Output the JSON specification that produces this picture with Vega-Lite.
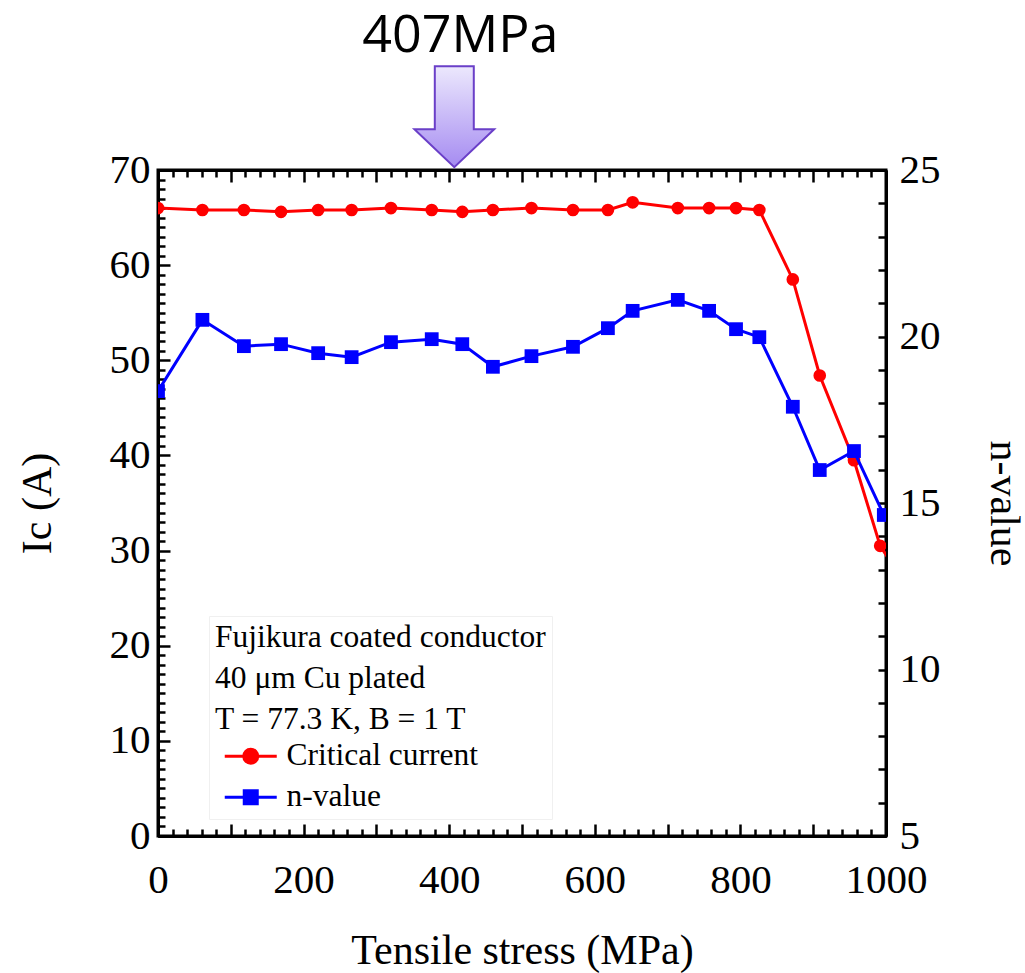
{
  "$schema": "https://vega.github.io/schema/vega-lite/v6.json",
  "width": 728,
  "height": 666,
  "autosize": {"type": "none"},
  "padding": {"left": 158, "top": 170, "right": 139, "bottom": 137},
  "background": "white",
  "config": {
    "view": {"stroke": "black", "strokeWidth": 3},
    "axis": {
      "grid": false,
      "domainColor": "black",
      "domainWidth": 3,
      "tickColor": "black",
      "tickWidth": 2.5,
      "labelFont": "Liberation Serif",
      "labelFontSize": 41,
      "labelColor": "black",
      "labelOverlap": false,
      "labelBound": false,
      "labelFlush": false,
      "titleFont": "Liberation Serif",
      "titleFontSize": 42,
      "titleFontWeight": "normal",
      "titleColor": "black"
    }
  },
  "datasets": {
    "ic": [
      {"stress": 0, "ic": 66.0, "series": "Critical current"},
      {"stress": 61, "ic": 65.8, "series": "Critical current"},
      {"stress": 118, "ic": 65.8, "series": "Critical current"},
      {"stress": 169, "ic": 65.6, "series": "Critical current"},
      {"stress": 220, "ic": 65.8, "series": "Critical current"},
      {"stress": 266, "ic": 65.8, "series": "Critical current"},
      {"stress": 320, "ic": 66.0, "series": "Critical current"},
      {"stress": 376, "ic": 65.8, "series": "Critical current"},
      {"stress": 418, "ic": 65.6, "series": "Critical current"},
      {"stress": 460, "ic": 65.8, "series": "Critical current"},
      {"stress": 513, "ic": 66.0, "series": "Critical current"},
      {"stress": 570, "ic": 65.8, "series": "Critical current"},
      {"stress": 618, "ic": 65.8, "series": "Critical current"},
      {"stress": 652, "ic": 66.6, "series": "Critical current"},
      {"stress": 714, "ic": 66.0, "series": "Critical current"},
      {"stress": 757, "ic": 66.0, "series": "Critical current"},
      {"stress": 794, "ic": 66.0, "series": "Critical current"},
      {"stress": 826, "ic": 65.8, "series": "Critical current"},
      {"stress": 872, "ic": 58.5, "series": "Critical current"},
      {"stress": 909, "ic": 48.4, "series": "Critical current"},
      {"stress": 956, "ic": 39.5, "series": "Critical current"},
      {"stress": 992, "ic": 30.5, "series": "Critical current"},
      {"stress": 1020, "ic": 27.2, "series": "Critical current"}
    ],
    "n": [
      {"stress": 0, "n": 18.36, "series": "n-value"},
      {"stress": 61, "n": 20.50, "series": "n-value"},
      {"stress": 118, "n": 19.71, "series": "n-value"},
      {"stress": 169, "n": 19.77, "series": "n-value"},
      {"stress": 220, "n": 19.50, "series": "n-value"},
      {"stress": 266, "n": 19.38, "series": "n-value"},
      {"stress": 320, "n": 19.83, "series": "n-value"},
      {"stress": 376, "n": 19.92, "series": "n-value"},
      {"stress": 418, "n": 19.77, "series": "n-value"},
      {"stress": 460, "n": 19.09, "series": "n-value"},
      {"stress": 513, "n": 19.41, "series": "n-value"},
      {"stress": 570, "n": 19.69, "series": "n-value"},
      {"stress": 618, "n": 20.25, "series": "n-value"},
      {"stress": 652, "n": 20.77, "series": "n-value"},
      {"stress": 714, "n": 21.10, "series": "n-value"},
      {"stress": 757, "n": 20.77, "series": "n-value"},
      {"stress": 794, "n": 20.22, "series": "n-value"},
      {"stress": 826, "n": 19.98, "series": "n-value"},
      {"stress": 872, "n": 17.89, "series": "n-value"},
      {"stress": 909, "n": 15.99, "series": "n-value"},
      {"stress": 956, "n": 16.56, "series": "n-value"},
      {"stress": 997, "n": 14.64, "series": "n-value"}
    ],
    "arrow": [{"stress": 407, "ic": 75.6}],
    "note": [{"stress": 407, "ic": 82.4, "label": "407MPa"}]
  },
  "layer": [
    {
      "data": {"name": "ic"},
      "mark": {"type": "line", "strokeWidth": 3, "clip": true, "point": {"filled": true, "size": 160, "shape": "circle", "opacity": 1}},
      "encoding": {
        "x": {
          "field": "stress", "type": "quantitative",
          "scale": {"domain": [0, 1000], "nice": false, "zero": false},
          "axis": {
            "orient": "bottom",
            "values": [0,100,200,300,400,500,600,700,800,900,1000],
            "labelExpr": "datum.value % 200 === 0 ? '' + datum.value : ''",
            "tickSize": -12,
            "labelPadding": 36,
            "title": "Tensile stress (MPa)",
            "titleBaseline": "alphabetic",
            "titleX": 364,
            "titleY": 127
          }
        },
        "y": {
          "field": "ic", "type": "quantitative",
          "scale": {"domain": [0, 70], "nice": false, "zero": false},
          "axis": {
            "orient": "left",
            "values": [0,10,20,30,40,50,60,70],
            "tickSize": -12,
            "labelPadding": 20,
            "title": "Ic (A)",
            "titleAngle": -90,
            "titleBaseline": "alphabetic",
            "titleAlign": "center",
            "titleX": -108,
            "titleY": 333
          }
        },
        "color": {
          "field": "series", "type": "nominal",
          "scale": {"domain": ["Critical current", "n-value"], "range": ["#ff0000", "#0000ff"]},
          "legend": {
            "orient": "none",
            "legendX": 51,
            "legendY": 446,
            "direction": "vertical",
            "padding": 6,
            "strokeColor": "#f0f0f0",
            "title": ["Fujikura coated conductor", "40 μm Cu plated", "T = 77.3 K, B = 1 T"],
            "titleFont": "Liberation Serif",
            "titleFontSize": 31.5,
            "titleFontWeight": "normal",
            "titleColor": "black",
            "titleLineHeight": 41,
            "titlePadding": 5,
            "titleLimit": 1000,
            "labelLimit": 1000,
            "labelFont": "Liberation Serif",
            "labelFontSize": 31.5,
            "labelColor": "black",
            "labelOffset": 20,
            "symbolOffset": 20,
            "rowPadding": 8,
            "encode": {
              "symbols": {
                "update": {
                  "shape": {"signal": "datum.value === 'Critical current' ? 'M-2.6,0H2.6M-0.7,0A0.7,0.7,0,1,1,0.7,0A0.7,0.7,0,1,1,-0.7,0Z' : 'M-2.6,0H2.6M-0.65,-0.65H0.65V0.65H-0.65Z'"},
                  "size": {"value": 400},
                  "fill": {"signal": "datum.value === 'Critical current' ? '#ff0000' : '#0000ff'"},
                  "stroke": {"signal": "datum.value === 'Critical current' ? '#ff0000' : '#0000ff'"},
                  "strokeWidth": {"value": 3},
                  "opacity": {"value": 1},
                  "fillOpacity": {"value": 1}
                }
              }
            }
          }
        }
      }
    },
    {
      "data": {"name": "n"},
      "mark": {"type": "line", "strokeWidth": 3, "clip": true, "point": {"filled": true, "size": 190, "shape": "square", "opacity": 1}},
      "encoding": {
        "x": {
          "field": "stress", "type": "quantitative",
          "axis": {
            "orient": "top",
            "values": [0,100,200,300,400,500,600,700,800,900,1000],
            "labels": false,
            "tickSize": -12,
            "title": null
          }
        },
        "y": {
          "field": "n", "type": "quantitative",
          "scale": {"domain": [5, 25], "nice": false, "zero": false},
          "axis": {
            "orient": "right",
            "values": [5,6,7,8,9,10,11,12,13,14,15,16,17,18,19,20,21,22,23,24,25],
            "labelExpr": "datum.value % 5 === 0 ? '' + datum.value : ''",
            "tickSize": -8,
            "labelPadding": 21,
            "title": "n-value",
            "titleAngle": 90,
            "titleBaseline": "alphabetic",
            "titleAlign": "center",
            "titleX": 104,
            "titleY": 333
          }
        },
        "color": {"field": "series", "type": "nominal"}
      }
    },
    {
      "data": {"name": "arrow"},
      "mark": {
        "type": "point",
        "shape": "M-0.386,-1L0.386,-1L0.386,0.25L0.79,0.25L0,1L-0.79,0.25L-0.386,0.25Z",
        "size": 10201,
        "filled": true,
        "clip": false,
        "opacity": 1,
        "fill": {"gradient": "linear", "x1": 0, "y1": 0, "x2": 0, "y2": 1, "stops": [{"offset": 0, "color": "#ece8fd"}, {"offset": 1, "color": "#a58bf1"}]},
        "stroke": "#6a3fc8",
        "strokeWidth": 2
      },
      "encoding": {
        "x": {
          "field": "stress", "type": "quantitative",
          "axis": {
            "orient": "bottom",
            "values": [0,20,40,60,80,120,140,160,180,220,240,260,280,320,340,360,380,420,440,460,480,520,540,560,580,620,640,660,680,720,740,760,780,820,840,860,880,920,940,960,980],
            "labels": false,
            "tickSize": -7,
            "title": null
          }
        },
        "y": {
          "field": "ic", "type": "quantitative",
          "scale": {"domain": [0, 70], "nice": false, "zero": false},
          "axis": {
            "orient": "left",
            "values": [1,2,3,4,5,6,7,8,9,11,12,13,14,15,16,17,18,19,21,22,23,24,25,26,27,28,29,31,32,33,34,35,36,37,38,39,41,42,43,44,45,46,47,48,49,51,52,53,54,55,56,57,58,59,61,62,63,64,65,66,67,68,69],
            "labels": false,
            "tickSize": -7,
            "title": null
          }
        }
      }
    },
    {
      "data": {"name": "note"},
      "mark": {"type": "text", "font": "Open Sans", "fontSize": 52, "baseline": "alphabetic", "align": "center", "dx": 6, "color": "black", "clip": false},
      "encoding": {
        "x": {
          "field": "stress", "type": "quantitative",
          "axis": {
            "orient": "top",
            "values": [20,40,60,80,120,140,160,180,220,240,260,280,320,340,360,380,420,440,460,480,520,540,560,580,620,640,660,680,720,740,760,780,820,840,860,880,920,940,960,980],
            "labels": false,
            "tickSize": -7,
            "title": null
          }
        },
        "y": {
          "field": "ic", "type": "quantitative",
          "scale": {"domain": [0, 70], "nice": false, "zero": false},
          "axis": null
        },
        "text": {"field": "label"}
      }
    }
  ],
  "resolve": {"scale": {"y": "independent"}, "axis": {"x": "independent", "y": "independent"}}
}
